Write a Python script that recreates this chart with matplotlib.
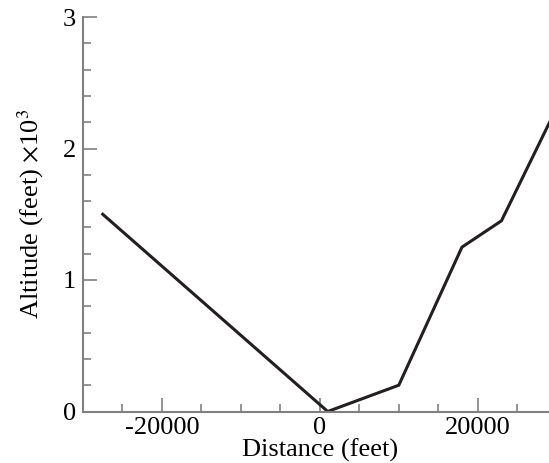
import matplotlib
matplotlib.use('Agg')
import matplotlib.pyplot as plt
from matplotlib.ticker import MultipleLocator

plt.rcParams['font.family'] = ['Liberation Serif', 'DejaVu Serif']
plt.rcParams['mathtext.fontset'] = 'stix'
plt.rcParams['axes.unicode_minus'] = False

# data (distance in feet, altitude in thousands of feet)
distance = [-27500, 1000, 10000, 18000, 23000, 30000]
altitude = [1.5, 0.0, 0.2, 1.25, 1.45, 2.31]

x_ticks = [-20000, 0, 20000]
y_ticks = [0, 1, 2, 3]

spine_color = '#808080'
line_color = '#231f20'

fig = plt.figure(figsize=(5.49, 4.63), dpi=100)
# axes runs slightly past the right image edge, as in the reference
ax = fig.add_axes([83 / 549, 51.5 / 463, (556.7 - 83) / 549, 394.5 / 463])

ax.plot(distance, altitude, color=line_color, linewidth=2.2, solid_joinstyle='miter')

ax.set_xlim(-30000, 30000)
ax.set_ylim(0, 3)
ax.set_xticks(x_ticks)
ax.set_yticks(y_ticks)
ax.xaxis.set_minor_locator(MultipleLocator(5000))
ax.yaxis.set_minor_locator(MultipleLocator(0.2))

for side in ['top', 'right']:
    ax.spines[side].set_visible(False)
for side in ['left', 'bottom']:
    ax.spines[side].set_color(spine_color)
    ax.spines[side].set_linewidth(1.5)

ax.tick_params(which='major', direction='in', length=10, width=1.2, color=spine_color,
               labelsize=19, labelcolor='black', pad=5)
ax.tick_params(axis='x', which='major', pad=4)
ax.tick_params(which='minor', direction='in', length=6, width=1.2, color=spine_color)

ax.set_xlabel('Distance (feet)', fontsize=19, labelpad=0)
ax.set_ylabel(r'Altitude (feet) $\times$10$^3$', fontsize=19, labelpad=12)

fig.savefig('out.png', dpi=100)
